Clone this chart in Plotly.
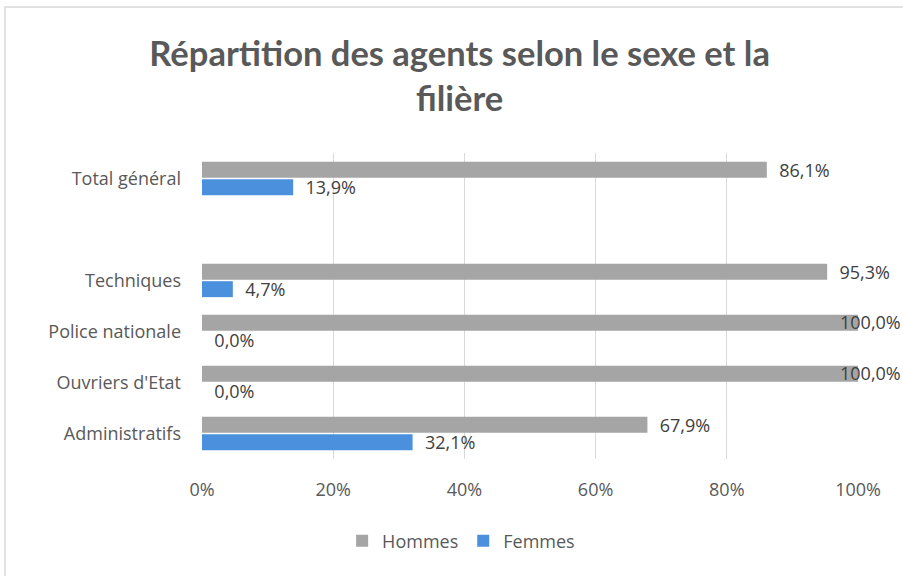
import plotly.graph_objects as go

categories = ["Administratifs", "Ouvriers d'Etat", "Police nationale", "Techniques", " ", "Total général"]
hommes = [67.9, 100.0, 100.0, 95.3, None, 86.1]
femmes = [32.1, 0.0, 0.0, 4.7, None, 13.9]
x_ticks = [0, 20, 40, 60, 80, 100]
x_tick_labels = ["0%", "20%", "40%", "60%", "80%", "100%"]

GRAY = "#a5a5a5"
BLUE = "#4a90dc"
TXT = "#595959"
FONT = "Open Sans"
TFONT = "Lato"
NB = "\u00a0\u00a0"


def fmt(v):
    return f"{v:.1f}".replace(".", ",") + "%"


def texts(vals):
    return [("" if v is None or v >= 99.95 else NB + fmt(v)) for v in vals]


fig = go.Figure()
fig.add_trace(go.Bar(
    y=categories, x=femmes, name="Femmes", orientation="h",
    marker=dict(color=BLUE, line=dict(width=0)),
    text=texts(femmes), textposition="outside", constraintext="none",
    textfont=dict(family=FONT, size=18, color="#404040"), cliponaxis=False,
))
fig.add_trace(go.Bar(
    y=categories, x=hommes, name="Hommes", orientation="h",
    marker=dict(color=GRAY, line=dict(width=0)),
    text=texts(hommes), textposition="outside", constraintext="none",
    textfont=dict(family=FONT, size=18, color="#404040"), cliponaxis=False,
))

annotations = []
for cat, v in zip(categories, hommes):
    if v is not None and v >= 99.95:
        annotations.append(dict(
            x=v, y=cat, xref="x", yref="y", text=fmt(v), showarrow=False,
            xanchor="right", xshift=45, yshift=10,
            font=dict(family=FONT, size=18, color="#404040"),
        ))

fig.update_layout(
    width=903, height=576,
    margin=dict(l=202, r=45, t=153, b=117),
    paper_bgcolor="white", plot_bgcolor="white",
    separators=", ",
    barmode="group", bargap=0.32, bargroupgap=0.08,
    title=dict(
        text="Répartition des agents selon le sexe et la<br>filière",
        x=0.509, xanchor="center", y=0.885, yanchor="middle",
        font=dict(family=TFONT, size=34.5, color=TXT, weight="bold"),
    ),
    xaxis=dict(
        range=[0, 100], tickvals=x_ticks, ticktext=x_tick_labels,
        showgrid=True, gridcolor="#d9d9d9", gridwidth=1,
        zeroline=False, showline=False, ticks="", ticklabelstandoff=18,
        tickfont=dict(family=FONT, size=18, color=TXT),
    ),
    yaxis=dict(
        categoryorder="array", categoryarray=categories,
        showgrid=False, zeroline=False, showline=False, ticks="",
        ticklabelstandoff=20,
        tickfont=dict(family=FONT, size=18, color=TXT),
    ),
    legend=dict(
        orientation="h", traceorder="reversed",
        x=0.395, xanchor="center", y=-0.268, yanchor="middle",
        font=dict(family=FONT, size=18, color=TXT),
    ),
    annotations=annotations,
    shapes=[dict(
        type="rect", xref="paper", yref="paper",
        x0=-0.3003, x1=1.2, y0=-0.6, y1=1.477,
        line=dict(color="#d9d9d9", width=1.5), fillcolor="rgba(0,0,0,0)",
        layer="below",
    )],
)

fig.write_html("out.html", config={"displayModeBar": False},
               post_script="document.body.style.margin='0';")
